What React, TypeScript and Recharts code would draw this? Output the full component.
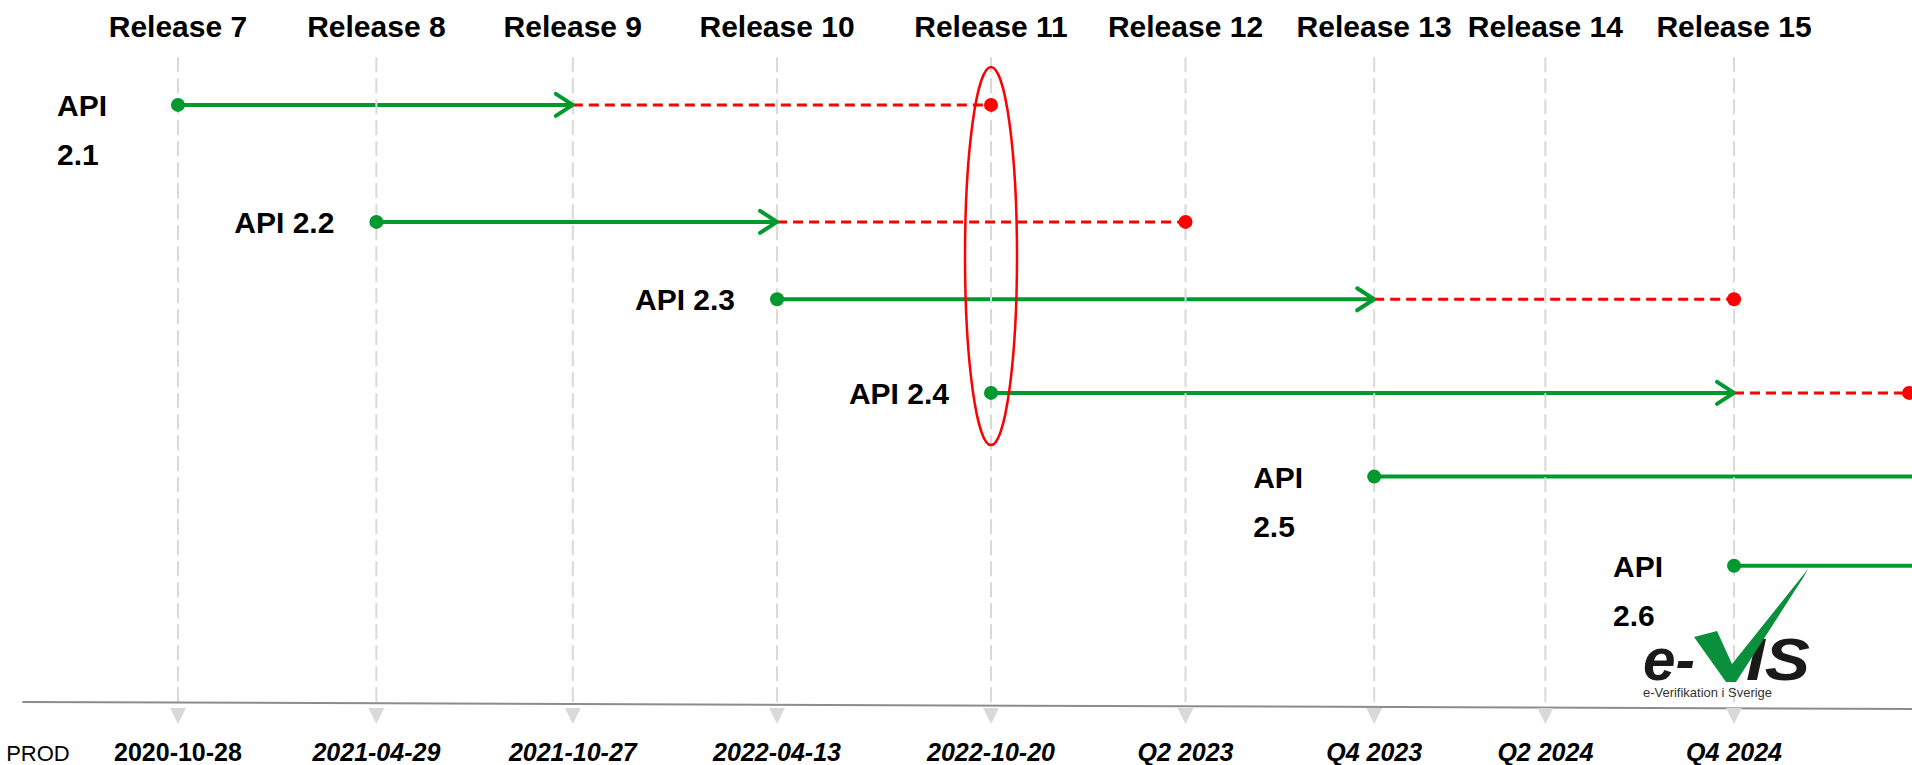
import React from 'react';
import { LineChart, Line, XAxis, YAxis, ReferenceDot } from 'recharts';

// ---- data ----
const releases = ['Release 7', 'Release 8', 'Release 9', 'Release 10', 'Release 11', 'Release 12', 'Release 13', 'Release 14', 'Release 15'];
// timeline slot of each release (index 9 = the next release, just outside the picture)
const releasePos = [0, 1.02, 2.03, 3.08, 4.18, 5.18, 6.15, 7.03, 8.0, 8.9];
const prodLabels = ['2020-10-28', '2021-04-29', '2021-10-27', '2022-04-13', '2022-10-20', 'Q2 2023', 'Q4 2023', 'Q2 2024', 'Q4 2024'];
const prodTitle = 'PROD';
const prodTitlePos = -0.72;

const apiLabels: string[][] = [['API', '2.1'], ['API 2.2'], ['API 2.3'], ['API 2.4'], ['API', '2.5'], ['API', '2.6']];
const apiLane = [0.61, 1.91, 2.77, 3.81, 4.74, 5.73];
const apiStart = [0, 1, 3, 4, 6, 8];
const apiSupportEnd: (number | null)[] = [2, 3, 6, 8, null, null];
const apiEndOfLife: (number | null)[] = [4, 5, 8, 9, null, null];

const highlightRelease = 4;
const highlightLane = 2.29;

const XMIN = -0.915;
const XMAX = 8.915;
const GRID_TOP = 0.08;
const GRID_BOTTOM = 7.3;
const baseline = [
  { x: -0.8, y: 7.244 },
  { x: XMAX, y: 7.322 },
];

const GREEN = '#00992E';
const RED = '#FF0000';
const GRID = '#D9D9D9';
const FONT = "'Liberation Sans', Arial, sans-serif";

const TopTick = (props: any) => {
  const { x, y, payload } = props;
  const i = releasePos.indexOf(payload.value);
  return (
    <text x={x} y={y - 13} textAnchor="middle" fontFamily={FONT} fontWeight="bold" fontSize={30} fill="#000">
      {releases[i]}
    </text>
  );
};

const BottomTick = (props: any) => {
  const { x, y, payload } = props;
  if (payload.value === prodTitlePos) {
    return (
      <text x={x} y={y + 36} textAnchor="middle" fontFamily={FONT} fontSize={22} fill="#000">
        {prodTitle}
      </text>
    );
  }
  const i = releasePos.indexOf(payload.value);
  return (
    <text x={x} y={y + 36} textAnchor="middle" fontFamily={FONT} fontWeight="bold" fontStyle={i === 0 ? 'normal' : 'italic'} fontSize={25} fill="#000">
      {prodLabels[i]}
    </text>
  );
};

const makeStartDot = (lines: string[], hasArrow: boolean) => (p: any) => {
  const { cx, cy, index } = p;
  if (index === 0) {
    return (
      <g key={`s-${index}`}>
        <circle cx={cx} cy={cy} r={7} fill={GREEN} />
        {lines.length === 1 ? (
          <text x={cx - 42} y={cy + 11} textAnchor="end" fontFamily={FONT} fontWeight="bold" fontSize={30} fill="#000">
            {lines[0]}
          </text>
        ) : (
          <text x={cx - 121} y={cy + 11} textAnchor="start" fontFamily={FONT} fontWeight="bold" fontSize={30} fill="#000">
            <tspan x={cx - 121} y={cy + 11}>{lines[0]}</tspan>
            <tspan x={cx - 121} y={cy + 60}>{lines[1]}</tspan>
          </text>
        )}
      </g>
    );
  }
  if (hasArrow) {
    return (
      <polyline
        key={`a-${index}`}
        points={`${cx - 17},${cy - 11} ${cx},${cy} ${cx - 17},${cy + 11}`}
        fill="none"
        stroke={GREEN}
        strokeWidth={4}
        strokeLinecap="round"
        strokeLinejoin="round"
      />
    );
  }
  return <g key={`n-${index}`} />;
};

const redDot = (p: any) => {
  const { cx, cy, index } = p;
  if (index === 1) return <circle key={`r-${index}`} cx={cx} cy={cy} r={7} fill={RED} />;
  return <g key={`r-${index}`} />;
};

const gridArrow = (p: any) => {
  const { cx, cy, index } = p;
  if (index === 1) {
    return <polygon key={`g-${index}`} points={`${cx - 8},${cy + 1} ${cx + 8},${cy + 1} ${cx},${cy + 17}`} fill={GRID} />;
  }
  return <g key={`g-${index}`} />;
};

export default function App() {
  const gridData = releasePos.slice(0, 9).map((x) => [
    { x, y: GRID_TOP },
    { x, y: GRID_BOTTOM },
  ]);

  return (
    <div style={{ position: 'absolute', left: 0, top: 0, width: 1912, height: 765, background: '#fff' }}>
      <LineChart width={1912} height={765} margin={{ top: 0, right: 0, bottom: 0, left: 0 }}>
        <XAxis
          xAxisId="top"
          orientation="top"
          type="number"
          dataKey="x"
          domain={[XMIN, XMAX]}
          ticks={releasePos.slice(0, 9)}
          interval={0}
          height={50}
          axisLine={false}
          tickLine={false}
          tickSize={0}
          tickMargin={0}
          tick={<TopTick />}
        />
        <XAxis
          xAxisId="bottom"
          orientation="bottom"
          type="number"
          dataKey="x"
          domain={[XMIN, XMAX]}
          ticks={[prodTitlePos, ...releasePos.slice(0, 9)]}
          interval={0}
          height={40}
          axisLine={false}
          tickLine={false}
          tickSize={0}
          tickMargin={0}
          tick={<BottomTick />}
        />
        <YAxis type="number" domain={[0, 7.5]} reversed hide />

        {apiLabels.map((_, i) => {
          const se = apiSupportEnd[i];
          const eol = apiEndOfLife[i];
          if (se === null || eol === null) return null;
          return (
            <Line
              key={`red-${i}`}
              xAxisId="bottom"
              data={[
                { x: releasePos[se], y: apiLane[i] },
                { x: releasePos[eol], y: apiLane[i] },
              ]}
              dataKey="y"
              stroke={RED}
              strokeWidth={3}
              strokeDasharray="10 6"
              dot={redDot}
              activeDot={false}
              isAnimationActive={false}
            />
          );
        })}

        {apiLabels.map((lines, i) => {
          const se = apiSupportEnd[i];
          return (
            <Line
              key={`green-${i}`}
              xAxisId="bottom"
              data={[
                { x: releasePos[apiStart[i]], y: apiLane[i] },
                { x: se === null ? XMAX : releasePos[se], y: apiLane[i] },
              ]}
              dataKey="y"
              stroke={GREEN}
              strokeWidth={4}
              dot={makeStartDot(lines, se !== null)}
              activeDot={false}
              isAnimationActive={false}
            />
          );
        })}

        {gridData.map((d, j) => (
          <Line
            key={`grid-${j}`}
            xAxisId="top"
            data={d}
            dataKey="y"
            stroke={GRID}
            strokeWidth={2}
            strokeDasharray="15 6"
            dot={gridArrow}
            activeDot={false}
            isAnimationActive={false}
          />
        ))}

        <Line
          xAxisId="bottom"
          data={baseline}
          dataKey="y"
          stroke="#8C8C8C"
          strokeWidth={2}
          dot={false}
          activeDot={false}
          isAnimationActive={false}
        />

        <ReferenceDot
          xAxisId="bottom"
          x={releasePos[highlightRelease]}
          y={highlightLane}
          r={1}
          shape={(p: any) => <ellipse cx={p.cx} cy={p.cy} rx={26} ry={189} fill="none" stroke={RED} strokeWidth={2.5} />}
        />
      </LineChart>

      <svg width={1912} height={765} style={{ position: 'absolute', left: 0, top: 0, pointerEvents: 'none' }}>
        <text x={1643} y={680} fontFamily={FONT} fontWeight="bold" fontStyle="italic" fontSize={60} fill="#1a1a1a" textLength={52} lengthAdjust="spacingAndGlyphs">
          e-
        </text>
        <text x={1746} y={680} fontFamily={FONT} fontWeight="bold" fontStyle="italic" fontSize={60} fill="#1a1a1a" textLength={64} lengthAdjust="spacingAndGlyphs">
          IS
        </text>
        <polygon points="1694,637 1717,631 1732,664 1808,569 1803,578 1736,682 1726,682" fill="#0A8F3C" />
        <text x={1643} y={697} fontFamily={FONT} fontSize={13} fill="#333" textLength={129} lengthAdjust="spacingAndGlyphs">
          e-Verifikation i Sverige
        </text>
      </svg>
    </div>
  );
}
